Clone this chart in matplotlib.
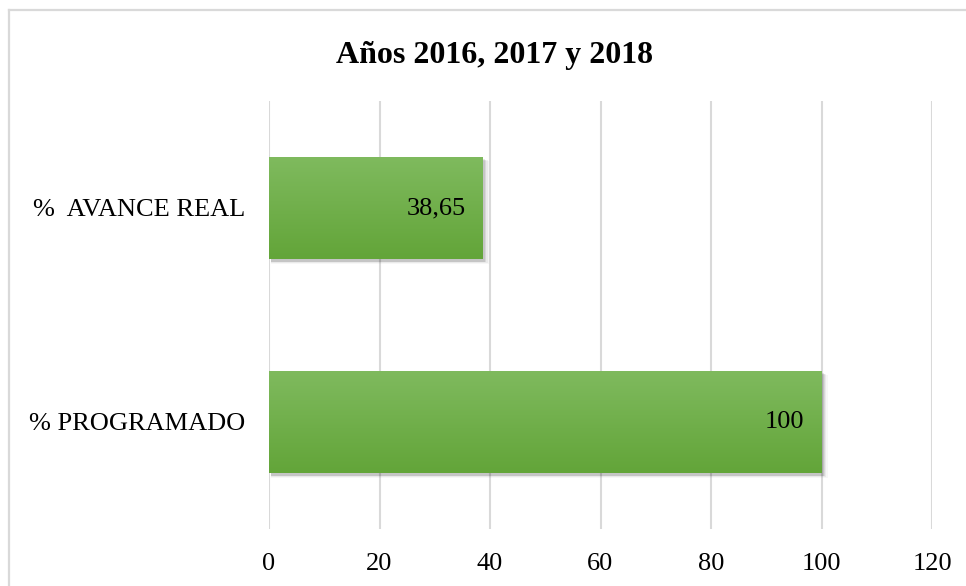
#!/usr/bin/env python3
"""Horizontal bar chart: % programado vs % avance real (2016-2018)."""

import matplotlib.pyplot as plt
import numpy as np
from matplotlib.colors import LinearSegmentedColormap
from matplotlib.patches import Rectangle

categories = ["% PROGRAMADO", "%  AVANCE REAL"]
values = [100, 38.65]
value_labels = ["100", "38,65"]
ticks = [0, 20, 40, 60, 80, 100, 120]
title = "Años 2016, 2017 y 2018"

plt.rcParams["font.family"] = ["Liberation Serif", "DejaVu Serif"]

fig = plt.figure(figsize=(9.66, 5.86), dpi=100)
W, H = 966, 586

# chart-area border (only top and left visible in the crop)
fig.add_artist(plt.Line2D([9 / W, 9 / W], [0, 1 - 10 / H],
                          transform=fig.transFigure, color="#d9d9d9", lw=1.6))
fig.add_artist(plt.Line2D([9 / W, 1], [1 - 10 / H, 1 - 10 / H],
                          transform=fig.transFigure, color="#d9d9d9", lw=1.6))

ax = fig.add_axes([269 / W, 1 - 529 / H, (932 - 269) / W, 428 / H])
ax.set_xlim(0, 120)
ax.set_ylim(-0.5, 1.5)

cmap = LinearSegmentedColormap.from_list("g", ["#63a539", "#7fba5e"])
grad = np.linspace(0, 1, 64).reshape(-1, 1)
bar_h = 0.48
ypos = np.arange(len(categories))

for y, v, lab in zip(ypos, values, value_labels):
    # soft drop shadow
    for i, a in enumerate([0.09, 0.07, 0.05, 0.03]):
        off = 0.2 + i * 0.2
        ax.add_patch(Rectangle((0.3, y - bar_h / 2 - 0.010 - i * 0.004),
                               v + off, bar_h, facecolor="black",
                               edgecolor="none", alpha=a, zorder=2))
    rect = Rectangle((0, y - bar_h / 2), v, bar_h, facecolor="none",
                     edgecolor="none", zorder=3)
    ax.add_patch(rect)
    im = ax.imshow(grad, cmap=cmap, aspect="auto", origin="lower",
                   extent=(0, v, y - bar_h / 2, y + bar_h / 2), zorder=3)
    im.set_clip_path(rect)
    ax.annotate(lab, (v, y), xytext=(-17, 0), textcoords="offset pixels",
                ha="right", va="center", fontsize=19, zorder=4)

ax.set_xlim(0, 120)
ax.set_ylim(-0.5, 1.5)
ax.set_xticks(ticks)
ax.set_xticklabels([str(t) for t in ticks], fontsize=19)
ax.set_yticks(ypos)
ax.set_yticklabels(categories, fontsize=19)
ax.tick_params(length=0)
ax.tick_params(axis="x", pad=17)
ax.tick_params(axis="y", pad=17)
ax.grid(True, axis="x", color="#d9d9d9", lw=1.5, zorder=1)
ax.set_axisbelow(True)
for s in ax.spines.values():
    s.set_visible(False)

fig.text(0.5 + 12 / W, 1 - 55 / H, title, ha="center", va="center",
         fontsize=23, fontweight="bold")

fig.savefig("out.png", dpi=100)
